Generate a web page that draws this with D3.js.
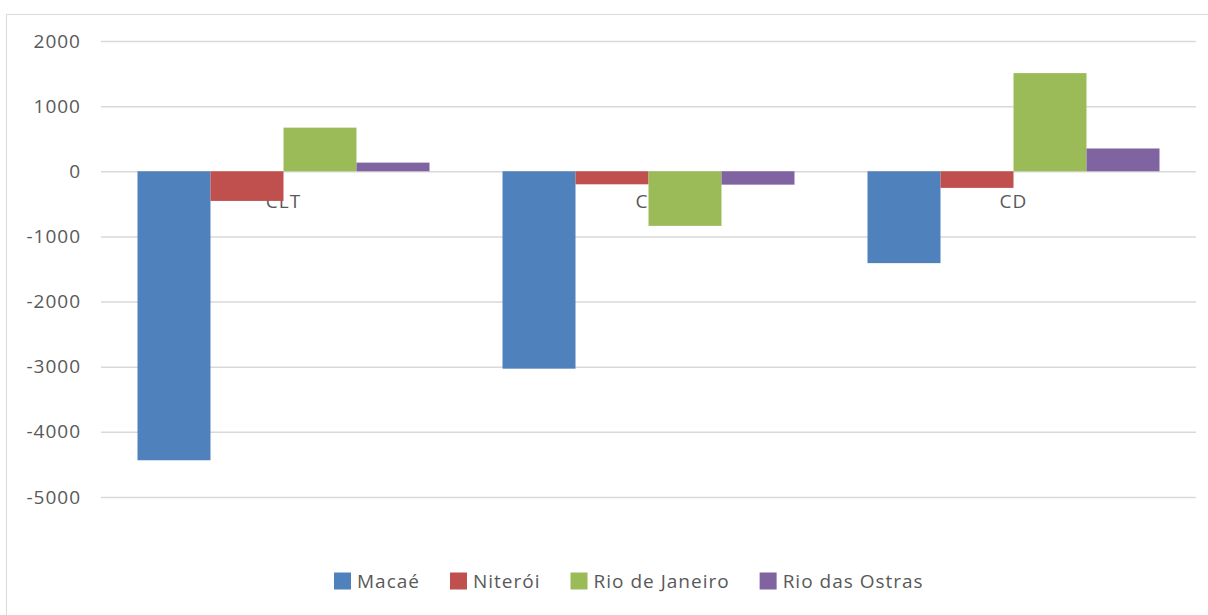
<!DOCTYPE html>
<html>
<head>
<meta charset="utf-8">
<script src="https://cdn.jsdelivr.net/npm/d3@7"></script>
<style>
  html, body { margin: 0; padding: 0; background: #fff; }
  svg { display: block; }
  text { font-family: "Open Sans", "Noto Sans", sans-serif; fill: #595959; letter-spacing: 1px; }
</style>
</head>
<body>
<svg id="chart" width="1208" height="615"></svg>
<script>
// Categories and series
const categories = ["CLT", "CC", "CD"];
const seriesNames = ["Macaé", "Niterói", "Rio de Janeiro", "Rio das Ostras"];
const macae = [-4436, -3030, -1410];
const niteroi = [-455, -200, -255];
const rioDeJaneiro = [670, -838, 1507];
const rioDasOstras = [133, -205, 350];
const yTicks = [2000, 1000, 0, -1000, -2000, -3000, -4000, -5000];
const colors = ["#4F81BD", "#C0504D", "#9BBB59", "#8064A2"];

const seriesValues = [macae, niteroi, rioDeJaneiro, rioDasOstras];

const svg = d3.select("#chart");
const W = 1208, H = 615;
const plot = { left: 101, right: 1196, top: 41, bottom: 497 };
const fontSize = 19;

// Chart frame
svg.append("rect")
  .attr("x", 6.5).attr("y", 14.5)
  .attr("width", W + 20).attr("height", H + 20)
  .attr("fill", "#fff").attr("stroke", "#d9d9d9").attr("stroke-width", 1);

const y = d3.scaleLinear().domain([-5000, 2000]).range([plot.bottom, plot.top]);
const x0 = d3.scaleBand().domain(categories).range([plot.left, plot.right]).paddingInner(0).paddingOuter(0);
const x1 = d3.scaleBand().domain(seriesNames).range([0, x0.bandwidth()]).paddingInner(0).paddingOuter(0.5);

// Gridlines and value labels (plain hyphen for negatives)
const yAxis = d3.axisLeft(y).tickValues(yTicks)
  .tickSize(-(plot.right - plot.left)).tickPadding(20)
  .tickFormat(d => String(d));
const ga = svg.append("g").attr("transform", `translate(${plot.left},0)`).call(yAxis);
ga.select(".domain").remove();
ga.selectAll(".tick line").attr("stroke", "#d9d9d9").attr("stroke-width", 1.5);
ga.selectAll(".tick text")
  .attr("font-family", "\"Open Sans\", sans-serif")
  .attr("font-size", fontSize).attr("fill", "#595959");

// Category labels sit just under the zero line, behind the bars
svg.append("g").selectAll("text")
  .data(categories)
  .join("text")
  .attr("x", d => x0(d) + x0.bandwidth() / 2)
  .attr("y", y(0) + 37)
  .attr("text-anchor", "middle")
  .attr("font-size", fontSize)
  .text(d => d);

// Bars
const groups = svg.append("g").selectAll("g")
  .data(categories)
  .join("g")
  .attr("transform", d => `translate(${x0(d)},0)`);

groups.selectAll("rect")
  .data((c, ci) => seriesNames.map((s, si) => ({ s, v: seriesValues[si][ci], color: colors[si] })))
  .join("rect")
  .attr("x", d => x1(d.s))
  .attr("width", x1.bandwidth())
  .attr("y", d => y(Math.max(0, d.v)))
  .attr("height", d => Math.abs(y(d.v) - y(0)))
  .attr("fill", d => d.color);

// Legend
const legendItems = seriesNames.map((name, i) => ({ name, color: colors[i] }));
const legend = svg.append("g");
const ly = 581;
let lx = 0;
const items = legend.selectAll("g").data(legendItems).join("g");
items.append("rect")
  .attr("y", ly - 8.5).attr("width", 17).attr("height", 17)
  .attr("fill", d => d.color);
items.append("text")
  .attr("x", 23).attr("y", ly).attr("dy", "0.35em")
  .attr("font-size", fontSize)
  .text(d => d.name);
items.each(function () {
  const w = this.getBBox().width;
  d3.select(this).attr("transform", `translate(${lx},0)`);
  lx += w + 30;
});
legend.attr("transform", `translate(${334},0)`);
</script>
</body>
</html>
